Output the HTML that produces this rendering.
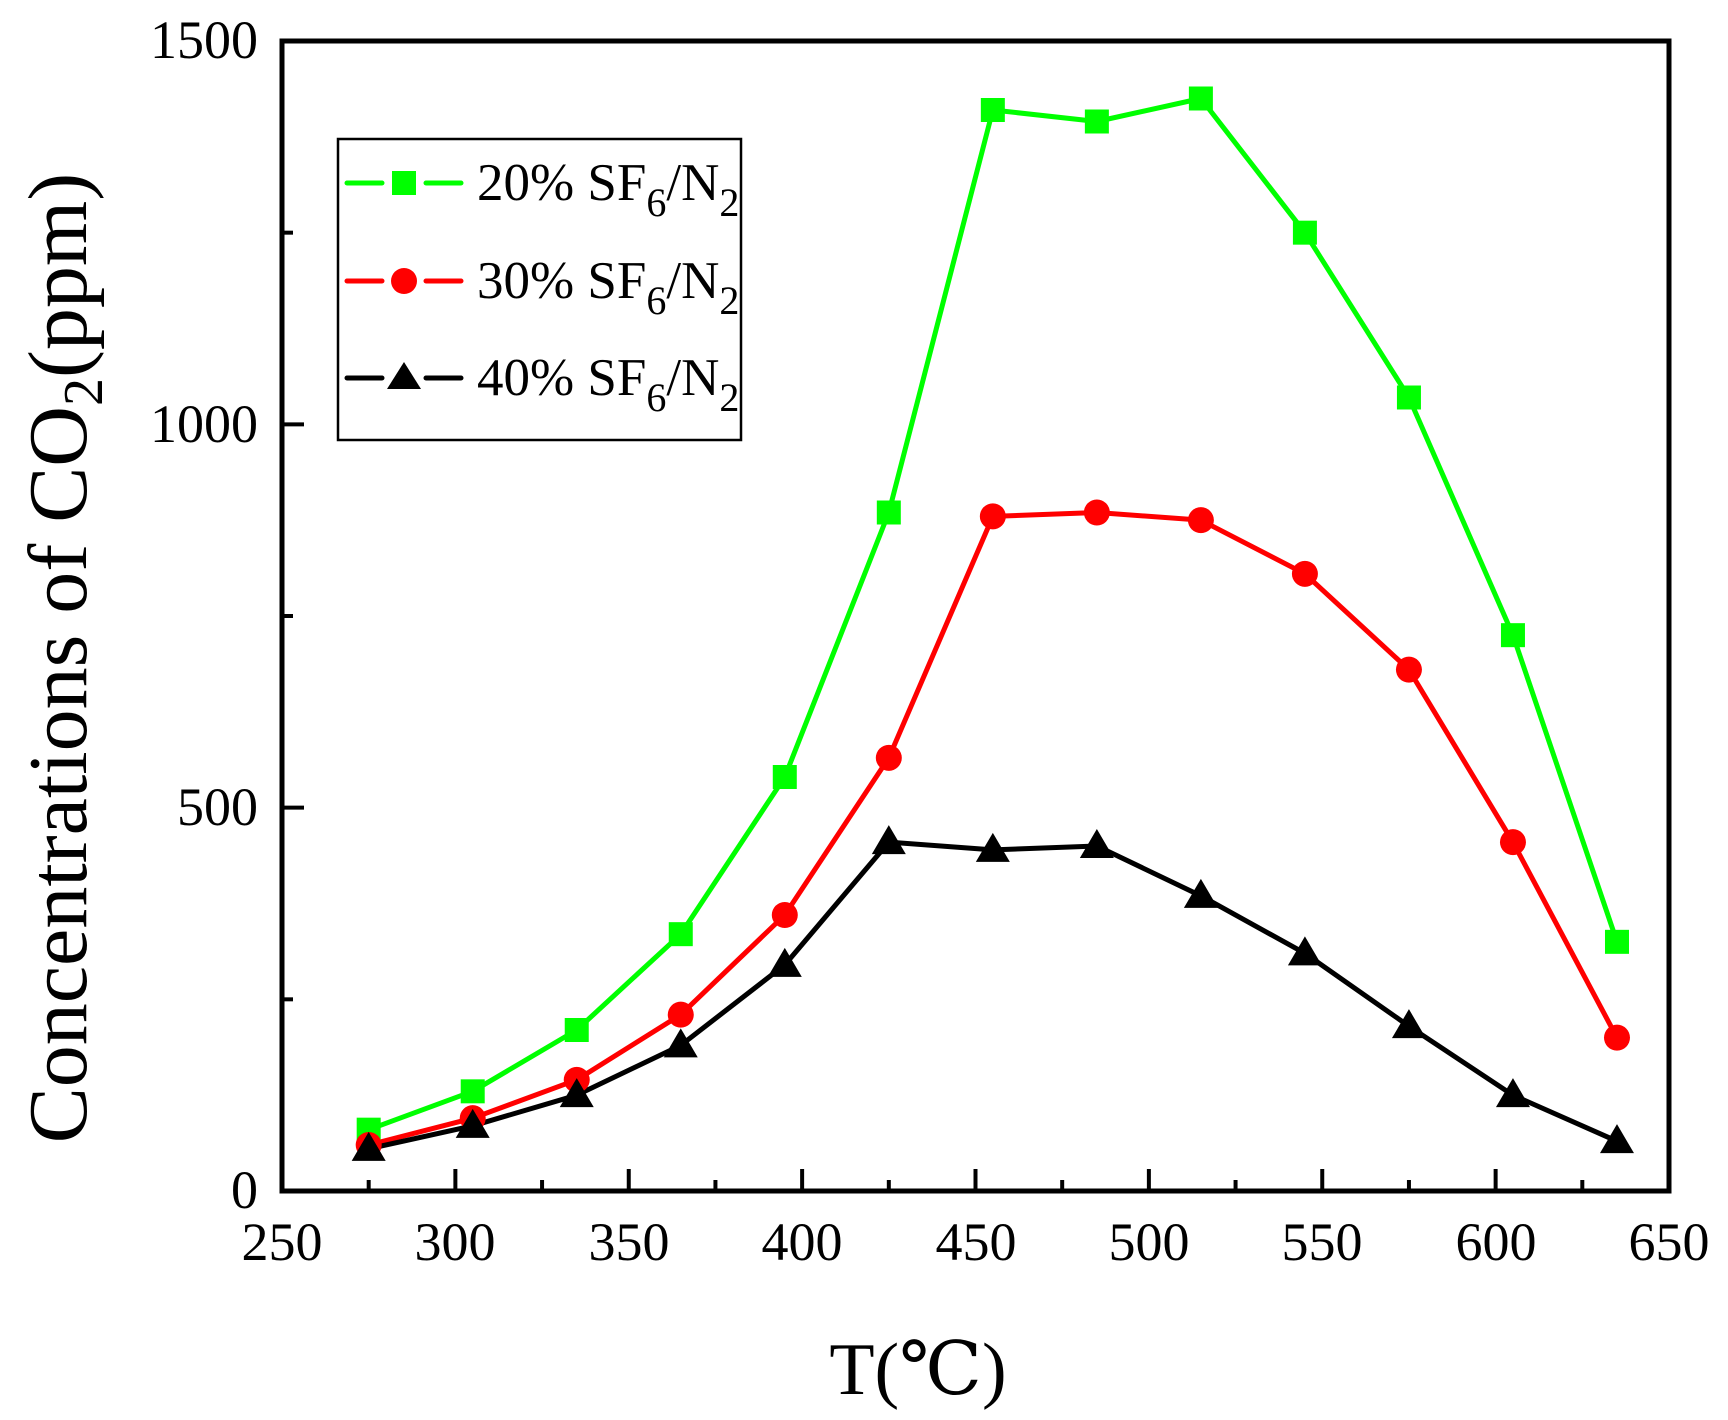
<!DOCTYPE html>
<html><head><meta charset="utf-8"><style>
html,body{margin:0;padding:0;background:#fff;}
svg{display:block;font-family:"Liberation Serif","DejaVu Serif",serif;}
</style></head><body>
<svg id="c" width="1728" height="1420" viewBox="0 0 1728 1420" xmlns="http://www.w3.org/2000/svg">
<rect width="1728" height="1420" fill="#fff"/>
<g id="ticks" stroke="#000" stroke-width="4"></g>
<g id="series"></g>
<rect x="282" y="41" width="1387" height="1150" fill="none" stroke="#000" stroke-width="5"/>
<g font-size="54" fill="#000" text-anchor="middle">
<text x="282" y="1260">250</text><text x="455" y="1260">300</text><text x="629" y="1260">350</text>
<text x="802" y="1260">400</text><text x="976" y="1260">450</text><text x="1149" y="1260">500</text>
<text x="1322" y="1260">550</text><text x="1496" y="1260">600</text><text x="1669" y="1260">650</text>
</g>
<g font-size="54" fill="#000" text-anchor="end">
<text x="258" y="1208">0</text><text x="258" y="825">500</text><text x="258" y="442">1000</text><text x="258" y="58">1500</text>
</g>
<text x="918" y="1394" font-size="74" text-anchor="middle">T(℃)</text>
<text transform="translate(86,658) rotate(-90)" font-size="84" text-anchor="middle">Concentrations of CO<tspan font-size="56" dy="16">2</tspan><tspan dy="-16">(ppm)</tspan></text>
<rect x="338" y="139" width="403" height="301" fill="#fff" stroke="#000" stroke-width="2.5"/>
<g stroke-width="5" stroke-linecap="round">
<line x1="347" y1="183" x2="382" y2="183" stroke="#00ff00"/><line x1="426" y1="183" x2="461" y2="183" stroke="#00ff00"/>
<rect x="392" y="171" width="24" height="24" fill="#00ff00"/>
<line x1="347" y1="281" x2="382" y2="281" stroke="#ff0000"/><line x1="426" y1="281" x2="461" y2="281" stroke="#ff0000"/>
<circle cx="404" cy="281" r="13" fill="#ff0000"/>
<line x1="347" y1="378" x2="382" y2="378" stroke="#000"/><line x1="426" y1="378" x2="461" y2="378" stroke="#000"/>
<polygon points="404,362 421,389 387,389" fill="#000"/>
</g>
<g font-size="53" fill="#000">
<text x="477" y="200">20% SF<tspan font-size="40" dy="16">6</tspan><tspan dy="-16">/N</tspan><tspan font-size="40" dy="16">2</tspan></text>
<text x="477" y="298">30% SF<tspan font-size="40" dy="16">6</tspan><tspan dy="-16">/N</tspan><tspan font-size="40" dy="16">2</tspan></text>
<text x="477" y="395">40% SF<tspan font-size="40" dy="16">6</tspan><tspan dy="-16">/N</tspan><tspan font-size="40" dy="16">2</tspan></text>
</g>
</svg>
<script>
var NS="http://www.w3.org/2000/svg";
function X(v){return 282+(v-250)*1387/400;}
function Y(v){return 1191-v*1150/1500;}
function el(t,a,p){var e=document.createElementNS(NS,t);for(var k in a)e.setAttribute(k,a[k]);p.appendChild(e);return e;}
var tk=document.getElementById("ticks");
for(var v=275;v<650;v+=25){var maj=(v%50==0);el("line",{x1:X(v),x2:X(v),y1:1191,y2:1191-(maj?22:11)},tk);}
for(var v=250;v<1500;v+=250){var maj=(v%500==0);el("line",{x1:282,x2:282+(maj?22:11),y1:Y(v),y2:Y(v)},tk);}
var xs=[275,305,335,365,395,425,455,485,515,545,575,605,635];
var S=[
{c:"#000",d:[55,85,125,190,295,455,445,450,385,310,215,125,65],m:"t"},
{c:"#ff0000",d:[60,95,145,230,360,565,880,885,875,805,680,455,200],m:"c"},
{c:"#00ff00",d:[80,130,210,335,540,885,1410,1395,1425,1250,1035,725,325],m:"s"}];
var g=document.getElementById("series");
[2,1,0].forEach(function(i){var s=S[i];
 var pts=xs.map(function(x,j){return X(x)+","+Y(s.d[j]);}).join(" ");
 el("polyline",{points:pts,fill:"none",stroke:s.c,"stroke-width":5,"stroke-linejoin":"round"},g);});
[2,1,0].forEach(function(i){var s=S[i];
 xs.forEach(function(x,j){var cx=X(x),cy=Y(s.d[j]);
  if(s.m=="s")el("rect",{x:cx-12,y:cy-12,width:24,height:24,fill:s.c},g);
  else if(s.m=="c")el("circle",{cx:cx,cy:cy,r:13,fill:s.c},g);
  else el("polygon",{points:cx+","+(cy-17)+" "+(cx+17)+","+(cy+12)+" "+(cx-17)+","+(cy+12),fill:s.c},g);});});
</script>
</body></html>
